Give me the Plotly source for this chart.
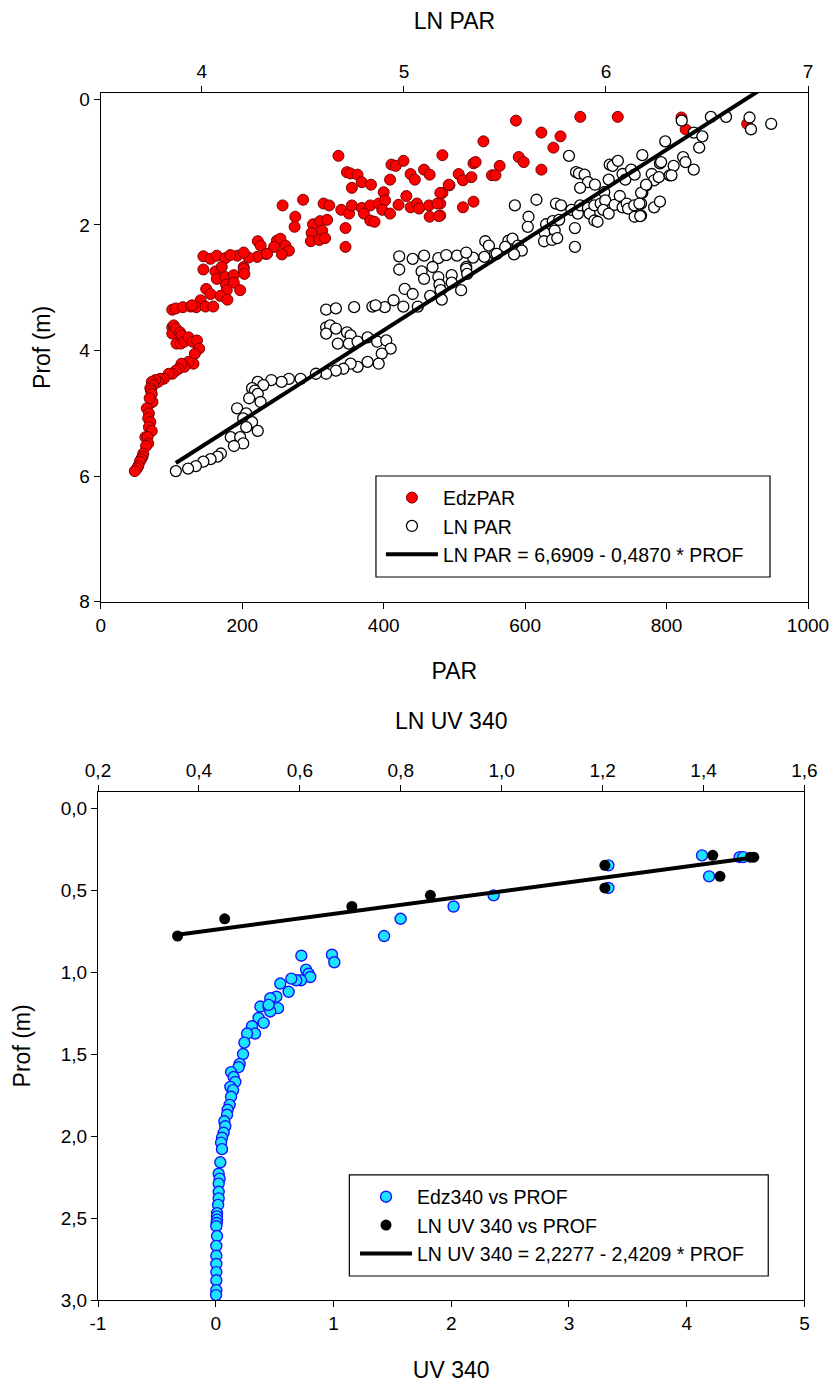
import numpy as np
import plotly.graph_objects as go

# ---------------- PAR profile (upper panel) ----------------
# Depth (m) of each EdzPAR reading
PAR_DEPTH = [
    0.39, 0.29, 0.48, 0.28, 0.28, 0.34, 0.53, 0.59, 0.77, 0.67,
    0.92, 1.00, 1.02, 1.00, 1.06, 1.12, 1.19, 1.29, 1.24, 1.37,
    1.49, 1.21, 1.21, 1.72, 1.63, 1.85, 1.66, 0.89, 0.90, 1.16,
    1.18, 1.20, 1.32, 1.36, 1.41, 1.04, 1.06, 0.98, 1.28, 1.19,
    1.28, 1.12, 1.20, 1.49, 1.36,
    1.69, 1.60, 1.66, 1.69, 1.76, 1.82, 1.69, 1.73, 1.82, 1.93,
    1.95, 1.69, 1.66, 1.48, 1.61, 1.76, 1.82, 1.68, 1.54, 1.72,
    1.66, 1.74, 1.69, 1.87, 1.66, 1.86,
    1.87, 2.03, 1.99, 1.94, 1.92, 2.13, 2.09, 2.26, 2.24, 2.21,
    2.05, 2.35,
    2.26, 2.33, 2.25, 2.22, 2.33, 2.41, 2.47, 2.46, 2.51, 2.52,
    2.49, 2.67, 2.35,
    2.50, 2.54, 2.49, 2.53, 2.48, 2.44, 2.46,
    2.71, 2.74, 2.67, 2.70, 2.78, 2.86, 2.83, 2.80, 2.95, 2.92,
    3.04, 3.04, 3.02, 3.10, 3.13, 3.19, 3.20,
    3.35, 3.33, 3.31, 3.30, 3.31, 3.30, 3.30, 3.28,
    3.63, 3.60, 3.73, 3.65, 3.71, 3.76, 3.89, 3.89, 3.86, 3.79,
    3.86, 3.84, 3.97, 4.05, 4.21, 4.18, 4.26, 4.21, 4.29,
    4.32, 4.37, 4.37, 4.45, 4.45, 4.50, 4.47, 4.50, 4.55,
    4.60, 4.64, 4.69, 4.82, 4.76, 4.92, 5.00, 5.08, 5.14, 5.22,
    5.28, 5.38, 5.38, 5.48, 5.52, 5.64, 5.69, 5.73, 5.77, 5.84,
    5.88, 5.92,
]
# EdzPAR readings
PAR_EDZ = [
    914, 821, 827, 731, 678, 587, 623, 650, 640, 541,
    591, 598, 527, 530, 564, 623, 506, 512, 524, 493,
    483, 553, 558, 512, 527, 480, 480, 483, 336, 348,
    353, 363, 369, 382, 355, 411, 417, 428, 409, 438,
    444, 457, 465, 480, 492,
    257, 286, 315, 323, 340, 351, 355, 369, 372, 381,
    387, 381, 393, 400, 402, 398, 409, 421, 432, 438,
    447, 450, 464, 465, 476, 478,
    275, 274, 300, 310, 320, 298, 313, 297, 309, 317,
    346, 346,
    222, 226, 249, 254, 261, 266, 256, 233, 221, 209,
    193, 202, 245,
    145, 155, 164, 176, 183, 202, 235,
    145, 162, 171, 202, 203, 164, 176, 188, 177, 188,
    197, 178, 149, 155, 169, 179, 141,
    101, 106, 116, 127, 135, 148, 159, 129,
    101, 103, 101, 106, 112, 114, 107, 113, 118, 124,
    130, 136, 139, 133, 131, 124, 118, 114, 110,
    106, 101, 96, 89, 84, 81, 77, 72, 74,
    70, 71, 72, 73, 69, 65, 68, 67, 70, 68,
    72, 63, 66, 67, 64, 60, 59, 57, 55, 53,
    51, 48,
]
PAR_FIT_INTERCEPT = 6.6909
PAR_FIT_SLOPE = -0.4870

PAR_TICKS = [0, 200, 400, 600, 800, 1000]
LN_PAR_TICKS = [4, 5, 6, 7]
PAR_DEPTH_TICKS = [0, 2, 4, 6, 8]

# ---------------- UV 340 profile (lower panel) ----------------
UV_DEPTH = [
    0.288, 0.416, 0.299, 0.299, 0.349, 0.487, 0.532, 0.600, 0.675, 0.780,
    0.894, 0.900, 0.940, 0.985, 1.010, 1.030, 1.050, 1.050, 1.040, 1.070,
    1.120, 1.150, 1.160, 1.210, 1.210, 1.220, 1.240, 1.280, 1.200, 1.310,
    1.330, 1.375, 1.375, 1.430, 1.500, 1.560, 1.580, 1.610, 1.640, 1.670,
    1.700, 1.720, 1.760, 1.810, 1.840, 1.870, 1.910, 1.940, 1.980, 2.010,
    2.040, 2.080, 2.160, 2.230, 2.260, 2.290, 2.340, 2.380, 2.420, 2.470,
    2.490, 2.510, 2.530, 2.550, 2.610, 2.670, 2.730, 2.780, 2.830, 2.880,
    2.940, 2.970,
]
UV_EDZ340 = [
    4.13, 4.19, 4.45, 4.48, 3.335, 3.335, 2.36, 2.02, 1.57, 1.43,
    0.987, 0.727, 1.007, 0.767, 0.789, 0.803, 0.724, 0.684, 0.642, 0.548,
    0.619, 0.515, 0.463, 0.379, 0.449, 0.529, 0.463, 0.364, 0.449, 0.407,
    0.308, 0.334, 0.266, 0.243, 0.232, 0.203, 0.194, 0.130, 0.152, 0.166,
    0.124, 0.147, 0.130, 0.118, 0.101, 0.096, 0.073, 0.081, 0.067, 0.053,
    0.045, 0.053, 0.039, 0.025, 0.033, 0.025, 0.025, 0.025, 0.020, 0.011,
    0.010, 0.011, 0.008, 0.005, 0.011, 0.005, 0.005, 0.005, 0.005, 0.005,
    0.005, 0.003,
]
UV_FIT_INTERCEPT = 2.2277
UV_FIT_SLOPE = -2.4209
UV_FIT_MAX_DEPTH = 0.8  # regression uses the surface layer only

UV_TICKS = [-1, 0, 1, 2, 3, 4, 5]
UV_TICK_LABELS = ["-1", "0", "1", "2", "3", "4", "5"]
UV_DEPTH_TICKS = [0.0, 0.5, 1.0, 1.5, 2.0, 2.5, 3.0]

# ---------------- derived series ----------------
par_depth = np.array(PAR_DEPTH)
ln_par = np.log(np.array(PAR_EDZ, dtype=float))
ln_par_span = np.array([ln_par.min(), ln_par.max()])
par_fit_depth = (ln_par_span - PAR_FIT_INTERCEPT) / PAR_FIT_SLOPE

uv_depth = np.array(UV_DEPTH)
uv = np.array(UV_EDZ340)
surface = uv_depth < UV_FIT_MAX_DEPTH
ln_uv = np.log(uv[surface])
ln_uv_depth = uv_depth[surface]
ln_uv_span = np.array([ln_uv.min(), ln_uv.max()])
uv_fit_depth = (ln_uv_span - UV_FIT_INTERCEPT) / UV_FIT_SLOPE


def dec(v):
    return f"{v:.4f}".replace(".", ",")


par_eq = f"LN PAR = {dec(PAR_FIT_INTERCEPT)} - {dec(-PAR_FIT_SLOPE)} * PROF"
uv_eq = f"LN UV 340 = {dec(UV_FIT_INTERCEPT)} - {dec(-UV_FIT_SLOPE)} * PROF"

FONT = "Liberation Sans, Arial, sans-serif"
TICK_FONT = dict(family=FONT, size=19, color="black")
TITLE_SIZE = 23

fig = go.Figure()

# upper panel
fig.add_trace(go.Scatter(
    x=PAR_EDZ, y=PAR_DEPTH, mode="markers", name="EdzPAR",
    xaxis="x", yaxis="y", legend="legend",
    marker=dict(size=11, color="#ff0000", line=dict(color="#7a0000", width=1)),
))
fig.add_trace(go.Scatter(
    x=ln_par, y=par_depth, mode="markers", name="LN PAR",
    xaxis="x2", yaxis="y", legend="legend",
    marker=dict(size=11, color="white", line=dict(color="black", width=1.3)),
))
fig.add_trace(go.Scatter(
    x=ln_par_span, y=par_fit_depth, mode="lines", name=par_eq,
    xaxis="x2", yaxis="y", legend="legend",
    line=dict(color="black", width=4),
))

# lower panel
fig.add_trace(go.Scatter(
    x=UV_EDZ340, y=UV_DEPTH, mode="markers", name="Edz340 vs PROF",
    xaxis="x3", yaxis="y2", legend="legend2",
    marker=dict(size=11, color="#1ee3ff", line=dict(color="#1414ff", width=1.4)),
))
fig.add_trace(go.Scatter(
    x=ln_uv, y=ln_uv_depth, mode="markers", name="LN UV 340 vs PROF",
    xaxis="x4", yaxis="y2", legend="legend2",
    marker=dict(size=11, color="black", line=dict(color="black", width=0)),
))
fig.add_trace(go.Scatter(
    x=ln_uv_span, y=uv_fit_depth, mode="lines", name=uv_eq,
    xaxis="x4", yaxis="y2", legend="legend2",
    line=dict(color="black", width=4),
))

axis_common = dict(
    showgrid=False, zeroline=False, showline=True, linecolor="black",
    linewidth=1.2, ticks="outside", ticklen=6, tickwidth=1.2,
    tickcolor="black", tickfont=TICK_FONT, automargin=False,
)


def title(text, standoff):
    return dict(text=text, font=dict(family=FONT, size=TITLE_SIZE, color="black"),
                standoff=standoff)


legend_style = dict(
    xanchor="left", yanchor="middle", bgcolor="rgba(0,0,0,0)",
    borderwidth=0, font=dict(family=FONT, size=19.5, color="black"),
    itemwidth=52, tracegroupgap=0,
)

# framed boxes behind the two legends
legend_boxes = [
    dict(type="rect", xref="paper", yref="paper",
         x0=0.3915, x1=0.9465, y0=0.599, y1=0.6827),
    dict(type="rect", xref="paper", yref="paper",
         x0=0.354, x1=0.944, y0=0.0199, y1=0.1036),
]
for box in legend_boxes:
    box.update(line=dict(color="black", width=1.2), fillcolor="white",
               layer="above")

fig.update_layout(
    width=833, height=1385,
    margin=dict(l=98, r=25, t=93, b=85),
    paper_bgcolor="white", plot_bgcolor="white",
    separators=",.",
    font=dict(family=FONT, color="black"),
    xaxis=dict(domain=[0.004, 1.0], anchor="y", range=[0, 1000],
               tickvals=PAR_TICKS, tickformat="d", title=title("PAR", 28),
               **axis_common),
    xaxis2=dict(overlaying="x", anchor="y", side="top", range=[3.5, 7],
                tickvals=LN_PAR_TICKS, tickformat="d",
                title=title("LN PAR", 25), **axis_common),
    yaxis=dict(domain=[0.5785, 1.0], anchor="x", range=[8, -0.1],
               tickvals=PAR_DEPTH_TICKS, tickformat="d", mirror=True,
               title=title("Prof (m)", 22), **axis_common),
    xaxis3=dict(domain=[0.0, 0.995], anchor="y2", range=[-1, 5],
                tickvals=UV_TICKS, ticktext=UV_TICK_LABELS,
                title=title("UV 340", 28), **axis_common),
    xaxis4=dict(overlaying="x3", anchor="y2", side="top", range=[0.2, 1.6],
                tick0=0.2, dtick=0.2, tickformat=".1f",
                title=title("LN UV 340", 23), **axis_common),
    yaxis2=dict(domain=[0.0, 0.4211], anchor="x3", range=[3.0, -0.1],
                tickvals=UV_DEPTH_TICKS, tickformat=".1f", mirror=True,
                title=title("Prof (m)", 23), **axis_common),
    legend=dict(x=0.3985, y=0.6409, **legend_style),
    legend2=dict(x=0.362, y=0.0617, **legend_style),
    shapes=legend_boxes,
    showlegend=True,
)

fig.write_html("out.html")
